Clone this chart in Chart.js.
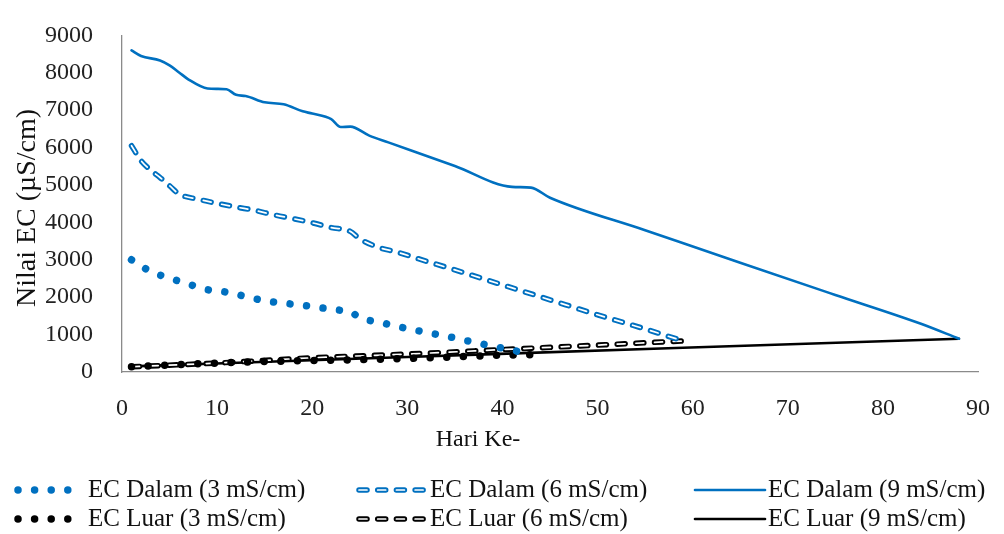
<!DOCTYPE html>
<html>
<head>
<meta charset="utf-8">
<script src="https://cdn.jsdelivr.net/npm/chart.js@4.4.0/dist/chart.umd.min.js"></script>
<style>
  html, body { margin: 0; padding: 0; background: #fff; }
  #wadah { width: 1004px; height: 534px; position: relative; }
</style>
</head>
<body>
<div id="wadah"><canvas id="grafikEC"></canvas></div>
<script>
// Data (hari ke-, nilai EC dalam µS/cm)
const hariDalam3 = [1, 3, 5, 7, 9, 11, 13, 15, 17, 19, 21, 23, 24, 25, 27, 29, 31, 33, 35, 37, 39, 41, 43];
const nilaiDalam3 = [3000, 2690, 2510, 2350, 2200, 2135, 2020, 1905, 1840, 1785, 1715, 1650, 1615, 1450, 1335, 1215, 1110, 1010, 910, 795, 690, 585, 480];

const hariDalam6 = [1, 2, 3, 4, 5, 6, 8, 10, 12, 14, 16, 18, 20, 22, 24, 25, 27, 29, 31, 35, 40, 45, 50, 55, 59];
const nilaiDalam6 = [6050, 5650, 5400, 5200, 4980, 4760, 4620, 4510, 4410, 4320, 4200, 4100, 3990, 3860, 3760, 3560, 3330, 3200, 3040, 2730, 2330, 1930, 1530, 1150, 830];

const hariDalam9 = [1, 2, 4, 5, 6, 7, 9, 10, 11, 12, 13, 15, 17, 19, 20, 22, 23, 24, 26, 28, 35, 41, 43, 45, 55, 65, 75, 84, 88];
const nilaiDalam9 = [8600, 8450, 8330, 8200, 8010, 7820, 7580, 7570, 7560, 7410, 7380, 7210, 7160, 6970, 6910, 6760, 6550, 6560, 6320, 6140, 5510, 4950, 4930, 4660, 3790, 2920, 2060, 1290, 890];

const hariLuar3 = [1, 5, 10, 15, 20, 25, 30, 35, 40, 43];
const nilaiLuar3 = [140, 185, 240, 280, 305, 330, 360, 405, 450, 465];

const hariLuar6 = [1, 10, 20, 30, 40, 50, 59];
const nilaiLuar6 = [140, 240, 380, 480, 600, 720, 830];

const hariLuar9 = [1, 30, 59, 88];
const nilaiLuar9 = [150, 400, 650, 890];

const labelSeri = [
  'EC Dalam (3 mS/cm)', 'EC Dalam (6 mS/cm)', 'EC Dalam (9 mS/cm)',
  'EC Luar (3 mS/cm)', 'EC Luar (6 mS/cm)', 'EC Luar (9 mS/cm)'
];
const tickX = [0, 10, 20, 30, 40, 50, 60, 70, 80, 90];
const tickY = [0, 1000, 2000, 3000, 4000, 5000, 6000, 7000, 8000, 9000];

const biru = '#0070C0';
const hitam = '#000000';
const hurufSerif = '"Liberation Serif", "Times New Roman", serif';

const gabung = (hari, nilai) => hari.map((h, i) => ({ x: h, y: nilai[i] }));

// gaya garis ala Excel
const titik = { borderDash: [0.001, 16.6], borderWidth: 7.5, borderCapStyle: 'round' };
const putus = { borderDash: [8, 10.7], borderWidth: 5.5, borderCapStyle: 'round', hollow: true };
const penuh = { borderWidth: 2.6, borderCapStyle: 'round' };

const seri = [
  [hariDalam3, nilaiDalam3, biru, titik],
  [hariDalam6, nilaiDalam6, biru, putus],
  [hariDalam9, nilaiDalam9, biru, penuh],
  [hariLuar3, nilaiLuar3, hitam, titik],
  [hariLuar6, nilaiLuar6, hitam, putus],
  [hariLuar9, nilaiLuar9, hitam, penuh]
];

const datasets = seri.map(([hari, nilai, warna, gaya], i) => Object.assign({
  label: labelSeri[i],
  data: gabung(hari, nilai),
  borderColor: warna,
  backgroundColor: warna,
  showLine: true,
  fill: false,
  pointRadius: 0,
  pointHoverRadius: 0,
  cubicInterpolationMode: 'monotone',
  borderJoinStyle: 'round'
}, gaya));

// garis putus-putus "berongga": digambar ulang dengan garis putih tipis di tengahnya
const garisRongga = {
  id: 'garisRongga',
  afterDatasetDraw(chart, args) {
    const ds = chart.data.datasets[args.index];
    if (!ds.hollow) return;
    const el = args.meta.dataset;
    const asli = el.options;
    el.options = Object.assign({}, asli, { borderColor: '#ffffff', borderWidth: 1.7 });
    el.draw(chart.ctx, chart.chartArea);
    el.options = asli;
  }
};

// judul sumbu dan legenda 3 kolom x 2 baris
const legendaJudul = {
  id: 'legendaJudul',
  afterDraw(chart) {
    const ctx = chart.ctx;
    ctx.save();
    ctx.fillStyle = '#111';
    ctx.textAlign = 'center';
    ctx.textBaseline = 'middle';
    ctx.font = '24px ' + hurufSerif;
    ctx.fillText('Hari Ke-', 478, 440);
    ctx.translate(28, 208);
    ctx.rotate(-Math.PI / 2);
    ctx.font = '28px ' + hurufSerif;
    ctx.fillText('Nilai EC (µS/cm)', 0, 0);
    ctx.restore();

    const barisY = [490, 519];
    const awalGaris = [18, 359, 695];
    const akhirGaris = [68, 426, 765];
    const awalTeks = [88, 430, 768];
    chart.data.datasets.forEach((ds, i) => {
      const kol = i % 3;
      const y = barisY[Math.floor(i / 3)];
      ctx.save();
      ctx.strokeStyle = ds.borderColor;
      ctx.lineWidth = ds.borderWidth;
      ctx.lineCap = ds.borderCapStyle || 'butt';
      ctx.setLineDash(ds.borderDash || []);
      ctx.beginPath();
      ctx.moveTo(awalGaris[kol], y);
      ctx.lineTo(akhirGaris[kol], y);
      ctx.stroke();
      if (ds.hollow) {
        ctx.strokeStyle = '#ffffff';
        ctx.lineWidth = 1.7;
        ctx.beginPath();
        ctx.moveTo(awalGaris[kol], y);
        ctx.lineTo(akhirGaris[kol], y);
        ctx.stroke();
      }
      ctx.setLineDash([]);
      ctx.fillStyle = '#111';
      ctx.font = '25px ' + hurufSerif;
      ctx.textAlign = 'left';
      ctx.textBaseline = 'middle';
      ctx.fillText(ds.label, awalTeks[kol], y);
      ctx.restore();
    });
  }
};

const fontTick = { family: hurufSerif, size: 24 };

const ctxGrafik = document.getElementById('grafikEC').getContext('2d');
const grafik = new Chart(ctxGrafik, {
  type: 'scatter',
  data: { datasets: datasets },
  options: {
    responsive: true,
    maintainAspectRatio: false,
    animation: false,
    layout: { padding: { top: 22, right: 21, bottom: 78, left: 0 } },
    plugins: {
      legend: { display: false },
      tooltip: { enabled: false }
    },
    scales: {
      x: {
        type: 'linear',
        min: tickX[0],
        max: tickX[tickX.length - 1],
        grid: { display: false },
        border: { display: true, color: '#8a8a8a', width: 1.3 },
        afterBuildTicks: (s) => { s.ticks = tickX.map(v => ({ value: v })); },
        ticks: { color: '#222', font: fontTick, padding: 14, maxRotation: 0, autoSkip: false, callback: (v) => String(v) },
        afterFit: (s) => { s.height = 84; }
      },
      y: {
        type: 'linear',
        min: tickY[0],
        max: tickY[tickY.length - 1],
        grid: { display: false },
        border: { display: true, color: '#8a8a8a', width: 1.3 },
        afterBuildTicks: (s) => { s.ticks = tickY.map(v => ({ value: v })); },
        ticks: { color: '#222', font: fontTick, padding: 21, autoSkip: false, callback: (v) => String(v) },
        afterFit: (s) => { s.width = 122; }
      }
    }
  },
  plugins: [garisRongga, legendaJudul]
});
</script>
</body>
</html>
